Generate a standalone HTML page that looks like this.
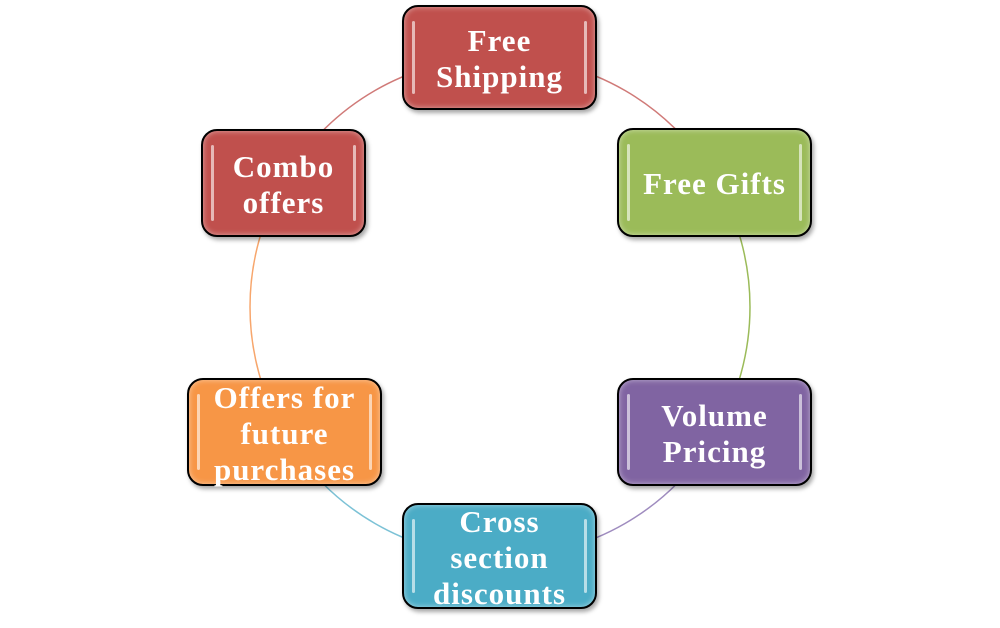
<!DOCTYPE html>
<html><head><meta charset="utf-8"><style>
body{margin:0;width:1000px;height:628px;background:#fff;position:relative;overflow:hidden}
.b{position:absolute;box-sizing:border-box;border:2px solid #000;border-radius:16px;display:flex;align-items:center;justify-content:center;text-align:center;color:#fff;font-family:"Liberation Serif",serif;font-weight:bold;font-size:31px;letter-spacing:1px;line-height:36px;padding-top:3px;box-shadow:2px 3px 4px rgba(0,0,0,.35), inset 0 0 6px rgba(255,255,255,.5)}
.b::before,.b::after{content:"";position:absolute;top:14px;bottom:14px;width:3px;background:rgba(255,255,255,.6);border-radius:2px}
.b::before{left:8px}.b::after{right:8px}
</style></head><body>
<svg width="1000" height="628" style="position:absolute;left:0;top:0" fill="none" stroke-width="1.5">
<path d="M500,57 A250,250 0 0 1 716.5,182" stroke="#d07a78"/>
<path d="M716.5,182 A250,250 0 0 1 716.5,432" stroke="#9bbb59"/>
<path d="M716.5,432 A250,250 0 0 1 500,557" stroke="#9f8cbf"/>
<path d="M500,557 A250,250 0 0 1 283.5,432" stroke="#7cc2d6"/>
<path d="M283.5,432 A250,250 0 0 1 283.5,182" stroke="#f7a66c"/>
<path d="M283.5,182 A250,250 0 0 1 500,57" stroke="#d07a78"/>
</svg>
<div class="b" style="left:402px;top:5px;width:195px;height:105px;background:#c0504d">Free<br>Shipping</div>
<div class="b" style="left:617px;top:128px;width:195px;height:109px;background:#9bbb59">Free Gifts</div>
<div class="b" style="left:617px;top:378px;width:195px;height:108px;background:#8064a2">Volume<br>Pricing</div>
<div class="b" style="left:402px;top:503px;width:195px;height:106px;background:#4bacc6">Cross<br>section<br>discounts</div>
<div class="b" style="left:187px;top:378px;width:195px;height:108px;background:#f79646">Offers for<br>future<br>purchases</div>
<div class="b" style="left:201px;top:129px;width:165px;height:108px;background:#c0504d">Combo<br>offers</div>
</body></html>
